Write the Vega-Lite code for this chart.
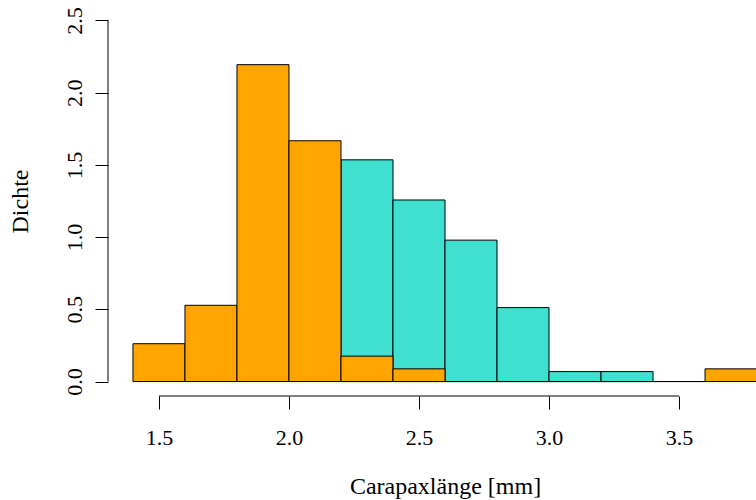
{
  "$schema": "https://vega.github.io/schema/vega-lite/v6.json",
  "autosize": {"type": "none"},
  "padding": {"left": 108, "top": 6, "right": 0, "bottom": 104},
  "width": 648,
  "height": 390,
  "background": "white",
  "config": {
    "view": {"stroke": null},
    "font": "Liberation Serif",
    "style": {"guide-label": {"font": "Liberation Serif"}, "guide-title": {"font": "Liberation Serif"}},
    "axis": {"labelFont": "Liberation Serif", "titleFont": "Liberation Serif", "labelColor": "black", "titleColor": "black", "tickColor": "black", "labelFontSize": 22, "titleFontSize": 24, "titleFontWeight": "normal", "grid": false, "domain": false}
  },
  "data": {"values": [
    {"group": "turquoise", "start": 2.2, "end": 2.4, "density": 1.535},
    {"group": "turquoise", "start": 2.4, "end": 2.6, "density": 1.257},
    {"group": "turquoise", "start": 2.6, "end": 2.8, "density": 0.979},
    {"group": "turquoise", "start": 2.8, "end": 3.0, "density": 0.512},
    {"group": "turquoise", "start": 3.0, "end": 3.2, "density": 0.069},
    {"group": "turquoise", "start": 3.2, "end": 3.4, "density": 0.069},
    {"group": "orange", "start": 1.4, "end": 1.6, "density": 0.262},
    {"group": "orange", "start": 1.6, "end": 1.8, "density": 0.528},
    {"group": "orange", "start": 1.8, "end": 2.0, "density": 2.194},
    {"group": "orange", "start": 2.0, "end": 2.2, "density": 1.667},
    {"group": "orange", "start": 2.2, "end": 2.4, "density": 0.176},
    {"group": "orange", "start": 2.4, "end": 2.6, "density": 0.088},
    {"group": "orange", "start": 2.6, "end": 2.8, "density": 0},
    {"group": "orange", "start": 2.8, "end": 3.0, "density": 0},
    {"group": "orange", "start": 3.0, "end": 3.2, "density": 0},
    {"group": "orange", "start": 3.2, "end": 3.4, "density": 0},
    {"group": "orange", "start": 3.4, "end": 3.6, "density": 0},
    {"group": "orange", "start": 3.6, "end": 3.8, "density": 0.088}
  ]},
  "encoding": {
    "x": {"type": "quantitative", "scale": {"domain": [1.304, 3.796], "nice": false, "zero": false},
      "axis": {"values": [1.5, 2.0, 2.5, 3.0, 3.5], "format": ".1f", "labelFont": "Liberation Serif", "titleFont": "Liberation Serif", "tickSize": 13, "labelPadding": 28, "labelBaseline": "middle", "title": "Carapaxlänge [mm]", "titleX": 337, "titleAlign": "center", "titleY": 90, "titleBaseline": "middle"}},
    "y": {"type": "quantitative", "scale": {"domain": [-0.1, 2.6], "nice": false, "zero": false},
      "axis": {"values": [0, 0.5, 1.0, 1.5, 2.0, 2.5], "format": ".1f", "labelFont": "Liberation Serif", "titleFont": "Liberation Serif", "tickSize": 13, "labelAngle": -90, "labelAlign": "center", "labelBaseline": "middle", "labelPadding": 21, "title": "Dichte", "titleX": -88, "titleAngle": -90, "titleBaseline": "middle"}}
  },
  "layer": [
    {
      "transform": [{"filter": "datum.group === 'turquoise'"}],
      "mark": {"type": "rect", "fill": "#40E0D0", "stroke": "black", "strokeWidth": 1, "clip": true},
      "encoding": {
        "x": {"field": "start", "type": "quantitative"},
        "x2": {"field": "end"},
        "y": {"field": "density", "type": "quantitative"},
        "y2": {"datum": 0}
      }
    },
    {
      "transform": [{"filter": "datum.group === 'orange'"}],
      "mark": {"type": "rect", "fill": "#FFA500", "stroke": "black", "strokeWidth": 1, "clip": true},
      "encoding": {
        "x": {"field": "start", "type": "quantitative"},
        "x2": {"field": "end"},
        "y": {"field": "density", "type": "quantitative"},
        "y2": {"datum": 0}
      }
    },
    {
      "data": {"values": [{}]},
      "mark": {"type": "rule", "color": "black", "strokeWidth": 1},
      "encoding": {
        "x": {"datum": 1.5, "type": "quantitative"},
        "x2": {"datum": 3.5},
        "y": {"datum": -0.1, "type": "quantitative"}
      }
    },
    {
      "data": {"values": [{}]},
      "mark": {"type": "rule", "color": "black", "strokeWidth": 1},
      "encoding": {
        "x": {"datum": 1.304, "type": "quantitative"},
        "y": {"datum": 0, "type": "quantitative"},
        "y2": {"datum": 2.5}
      }
    }
  ]
}
